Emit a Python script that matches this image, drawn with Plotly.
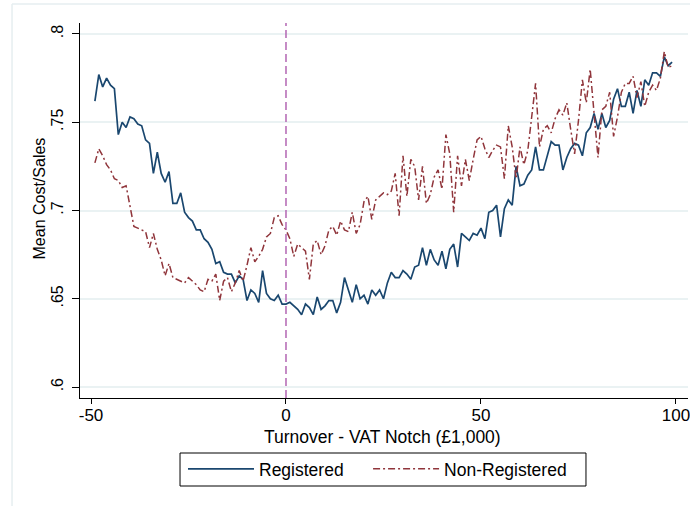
import plotly.graph_objects as go

x_vals = list(range(-49, 100))

registered = [
    0.762, 0.777, 0.770, 0.775, 0.771, 0.769, 0.743, 0.750, 0.747, 0.753,
    0.752, 0.749, 0.748, 0.740, 0.738, 0.721, 0.733, 0.721, 0.716, 0.722,
    0.704, 0.704, 0.710, 0.699, 0.696, 0.694, 0.689, 0.689, 0.684, 0.682,
    0.678, 0.670, 0.671, 0.665, 0.664, 0.664, 0.659, 0.663, 0.661, 0.649,
    0.655, 0.653, 0.648, 0.666, 0.653, 0.650, 0.649, 0.652, 0.647, 0.647,
    0.648, 0.646, 0.644, 0.641, 0.647, 0.645, 0.641, 0.651, 0.644, 0.646,
    0.649, 0.649, 0.642, 0.648, 0.662, 0.655, 0.648, 0.658, 0.650, 0.652,
    0.647, 0.655, 0.652, 0.655, 0.650, 0.659, 0.665, 0.662, 0.662, 0.666,
    0.664, 0.661, 0.668, 0.669, 0.679, 0.669, 0.678, 0.672, 0.669, 0.677,
    0.667, 0.678, 0.681, 0.668, 0.687, 0.685, 0.683, 0.687, 0.686, 0.690,
    0.684, 0.699, 0.700, 0.703, 0.685, 0.701, 0.706, 0.703, 0.725, 0.714,
    0.715, 0.720, 0.723, 0.736, 0.723, 0.723, 0.731, 0.739, 0.737, 0.737,
    0.723, 0.730, 0.735, 0.738, 0.737, 0.731, 0.744, 0.747, 0.755, 0.746,
    0.755, 0.747, 0.751, 0.763, 0.769, 0.759, 0.759, 0.767, 0.755, 0.768,
    0.759, 0.774, 0.771, 0.778, 0.778, 0.776, 0.787, 0.782, 0.784,
]

non_registered = [
    0.727, 0.735, 0.731, 0.726, 0.723, 0.718, 0.717, 0.713, 0.714, 0.702,
    0.691, 0.690, 0.689, 0.688, 0.679, 0.687, 0.678, 0.672, 0.663, 0.670,
    0.662, 0.661, 0.660, 0.659, 0.662, 0.660, 0.658, 0.655, 0.654, 0.661,
    0.660, 0.664, 0.649, 0.660, 0.662, 0.654, 0.659, 0.666, 0.660, 0.669,
    0.679, 0.671, 0.674, 0.678, 0.685, 0.687, 0.696, 0.697, 0.692, 0.689,
    0.684, 0.674, 0.681, 0.679, 0.677, 0.661, 0.681, 0.683, 0.675, 0.680,
    0.689, 0.691, 0.686, 0.694, 0.689, 0.688, 0.699, 0.687, 0.692, 0.705,
    0.708, 0.695, 0.706, 0.708, 0.710, 0.709, 0.711, 0.721, 0.697, 0.731,
    0.708, 0.729, 0.725, 0.706, 0.725, 0.704, 0.709, 0.719, 0.723, 0.712,
    0.743, 0.732, 0.699, 0.731, 0.714, 0.729, 0.717, 0.729, 0.740, 0.742,
    0.735, 0.730, 0.734, 0.737, 0.736, 0.718, 0.748, 0.736, 0.718, 0.736,
    0.726, 0.734, 0.755, 0.772, 0.736, 0.746, 0.748, 0.744, 0.752, 0.757,
    0.754, 0.761, 0.746, 0.732, 0.751, 0.774, 0.761, 0.780, 0.755, 0.730,
    0.757, 0.759, 0.767, 0.742, 0.753, 0.767, 0.772, 0.772, 0.776, 0.764,
    0.773, 0.759, 0.767, 0.771, 0.768, 0.775, 0.790, 0.781, 0.782,
]

x_ticks = [-50, 0, 50, 100]
x_ticktext = ["-50", "0", "50", "100"]
y_ticks = [0.6, 0.65, 0.7, 0.75, 0.8]
y_ticktext = [".6", ".65", ".7", ".75", ".8"]

FONT = "Liberation Sans, Arial, sans-serif"
NBSP = "\u00a0"

fig = go.Figure()
fig.add_trace(go.Scatter(
    x=x_vals, y=registered, mode="lines", name="Registered" + NBSP * 4,
    line=dict(color="#1a476f", width=1.7),
))
fig.add_trace(go.Scatter(
    x=x_vals, y=non_registered, mode="lines", name="Non-Registered",
    line=dict(color="#90353b", width=1.5, dash="7px,3px,2px,3px"),
))

fig.add_shape(type="line", xref="x", yref="paper", x0=0, x1=0, y0=0, y1=1,
              line=dict(color="#b366b3", width=1.5, dash="8px,4px"))
# light outer graph-region border (top and left)
fig.add_shape(type="line", xref="paper", yref="paper",
              x0=-0.1118, x1=1.1, y0=1.0507, y1=1.0507,
              line=dict(color="#e6eef0", width=1.5))
fig.add_shape(type="line", xref="paper", yref="paper",
              x0=-0.1118, x1=-0.1118, y0=-0.3, y1=1.0507,
              line=dict(color="#e6eef0", width=1.5))
# legend frame
fig.add_shape(type="rect", xref="paper", yref="paper",
              x0=0.1645, x1=0.8322, y0=-0.2347, y1=-0.1467,
              line=dict(color="black", width=1), fillcolor="rgba(0,0,0,0)")

# axis titles
fig.add_annotation(text="Turnover - VAT Notch (£1,000)", xref="paper", yref="paper",
                   x=0.498, y=-0.104, xanchor="center", yanchor="middle",
                   showarrow=False, font=dict(size=17.5, family=FONT, color="black"))
fig.add_annotation(text="Mean Cost/Sales", xref="paper", yref="paper",
                   x=-0.0658, y=0.532, xanchor="center", yanchor="middle",
                   textangle=-90, showarrow=False,
                   font=dict(size=16, family=FONT, color="black"))

fig.update_layout(
    width=690, height=506,
    margin=dict(l=80, r=2, t=23, b=108),
    paper_bgcolor="white", plot_bgcolor="white",
    font=dict(family=FONT, color="black", size=16),
    showlegend=True,
    legend=dict(
        orientation="h", x=0.1694, xanchor="left", y=-0.1413, yanchor="top",
        borderwidth=0, bgcolor="rgba(0,0,0,0)",
        font=dict(size=17.5, family=FONT), itemwidth=66,
    ),
    xaxis=dict(
        range=[-52.82, 103.08], tickvals=x_ticks, ticktext=x_ticktext,
        ticks="outside", ticklen=5, tickcolor="black", tickwidth=1,
        ticklabelstandoff=-3, ticklabeloverflow="allow",
        showline=True, linecolor="black", linewidth=1, mirror=False,
        showgrid=False, zeroline=False, automargin=False,
        tickfont=dict(size=17),
    ),
    yaxis=dict(
        range=[0.5938, 0.8062], tickvals=y_ticks, ticktext=y_ticktext,
        tickangle=-90, ticklabelstandoff=3,
        ticks="outside", ticklen=7, tickcolor="black", tickwidth=1,
        showline=True, linecolor="black", linewidth=1, mirror=False,
        showgrid=True, gridcolor="#eaf2f3", gridwidth=1.5, zeroline=False,
        automargin=False,
        tickfont=dict(size=16),
    ),
)

fig.write_html("out.html", post_script="document.body.style.margin='0';",
               config={"displayModeBar": False})
